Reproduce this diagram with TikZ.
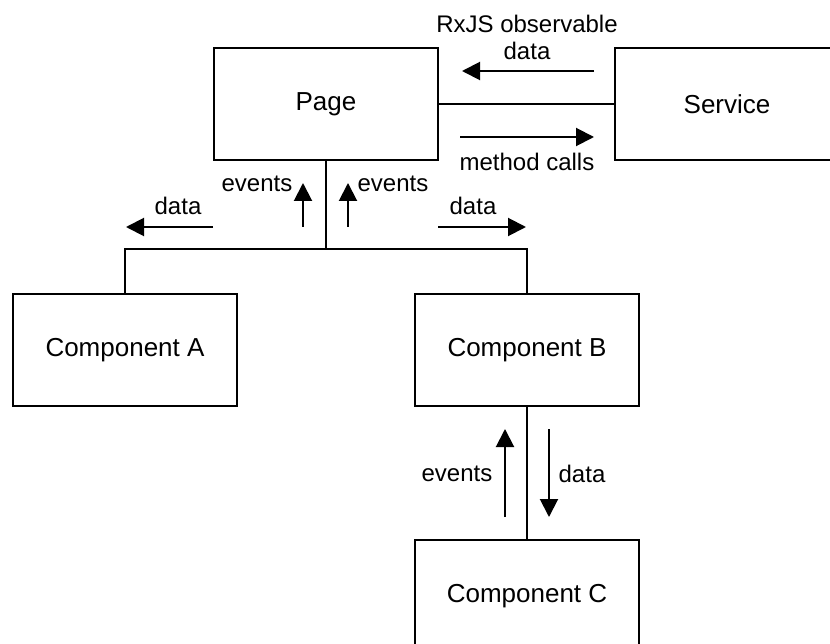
\documentclass[tikz,border=0pt]{standalone}
\usepackage{fontspec}
\setmainfont{Liberation Sans}
\usetikzlibrary{arrows.meta}
\begin{document}
\begin{tikzpicture}[x=1pt,y=-1pt,
  box/.style={draw, line width=2pt, minimum width=224pt, minimum height=112pt,
    inner sep=0pt, font=\fontsize{26}{30}\selectfont},
  wire/.style={line width=2pt},
  flow/.style={line width=2pt, -{Triangle[length=18pt,width=18pt]}},
  lbl/.style={inner sep=0pt, font=\fontsize{24}{28}\selectfont}]
\useasboundingbox (0,0) rectangle (830,644);
\clip (0,0) rectangle (830,644);

% boxes
\node[box] (page) at (326,104.5) {Page};
\node[box] (service) at (727,104.5) {Service};
\node[box] (ca) at (125,350) {Component A};
\node[box] (cb) at (527,350) {Component B};
\node[box] (cc) at (527,596) {Component C};

% wiring between the boxes
\coordinate (fork) at (326,249);
\draw[wire] (page.east) -- (service.west);
\draw[wire] (page.south) -- (fork) -| (ca.north);
\draw[wire] (fork) -| (cb.north);
\draw[wire] (cb.south) -- (cc.north);

% Page <-> Service
\coordinate (s1) at (594,71);  \coordinate (s2) at (462,71);
\coordinate (m1) at (460,137); \coordinate (m2) at (594,137);
\draw[flow] (s1) -- (s2);
\draw[flow] (m1) -- (m2);
\node[lbl] (rx) at (527,24) {RxJS observable};
\node[lbl] (rxd) at (527,51) {data};
\node[lbl] (mc) at (527,162) {method calls};

% Page <-> Components A and B
\coordinate (da1) at (213,227); \coordinate (da2) at (126,227);
\coordinate (ea1) at (303,227); \coordinate (ea2) at (303,183);
\coordinate (eb1) at (348,227); \coordinate (eb2) at (348,183);
\coordinate (db1) at (438,227); \coordinate (db2) at (526,227);
\draw[flow] (da1) -- (da2);
\draw[flow] (ea1) -- (ea2);
\draw[flow] (eb1) -- (eb2);
\draw[flow] (db1) -- (db2);
\node[lbl] (dal) at (178,206) {data};
\node[lbl] (eal) at (257,184) {events};
\node[lbl] (ebl) at (393,184) {events};
\node[lbl] (dbl) at (473,206) {data};

% Component B <-> Component C
\coordinate (ec1) at (505,517); \coordinate (ec2) at (505,429);
\coordinate (dc1) at (549,429); \coordinate (dc2) at (549,517);
\draw[flow] (ec1) -- (ec2);
\draw[flow] (dc1) -- (dc2);
\node[lbl] (ecl) at (457,474) {events};
\node[lbl] (dcl) at (582,474) {data};
\end{tikzpicture}
\end{document}
